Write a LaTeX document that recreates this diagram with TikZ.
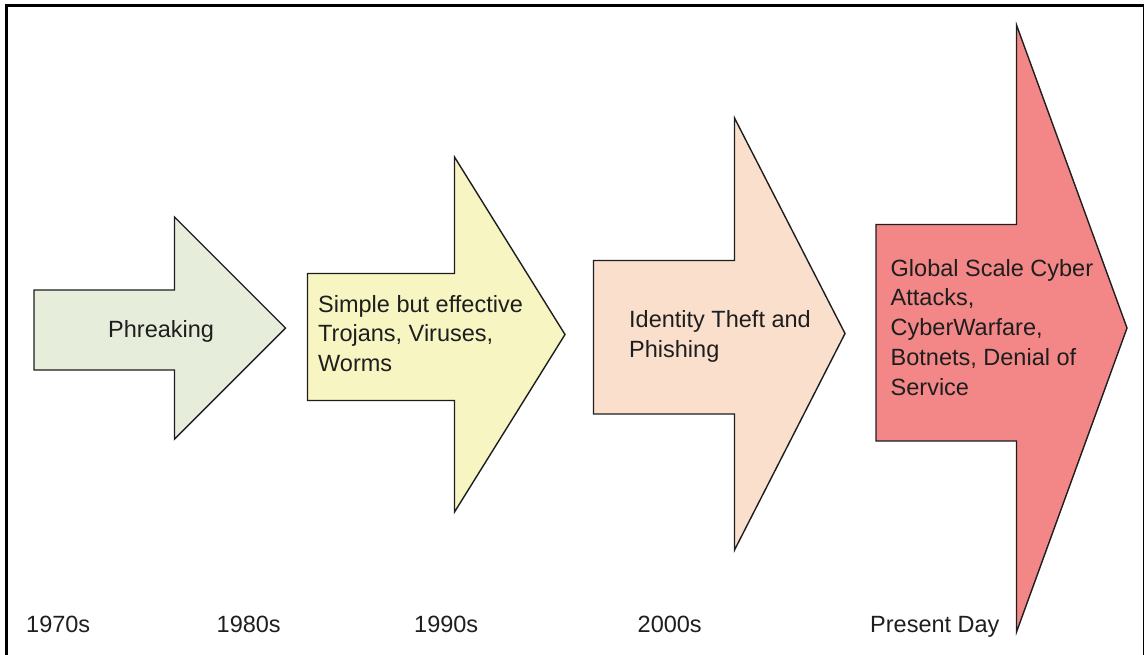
\documentclass[tikz,border=0pt]{standalone}
\usepackage{fontspec}
\setmainfont{Liberation Sans}
\definecolor{phreak}{HTML}{E6EDDB}
\definecolor{trojan}{HTML}{F7F5C2}
\definecolor{ident}{HTML}{FADFCC}
\definecolor{global}{HTML}{F38787}
\definecolor{ink}{HTML}{1E1E1E}
\begin{document}
\begin{tikzpicture}[x=1pt,y=-1pt,
  bigarrow/.style={draw=ink,line width=1.4pt,line join=miter},
  % multi-line labels are anchored at the baseline of their last line
  label/.style={anchor=base west,inner sep=0pt,align=left,text=ink,
    font=\fontsize{23.5}{29.7}\selectfont},
  era/.style={anchor=base west,inner sep=0pt,text=ink,
    font=\fontsize{23.5}{28}\selectfont}]
\useasboundingbox (0,0) rectangle (1145,654);
% outer frame, open at the bottom
\draw[black,line width=3pt] (6,660) -- (6,5.5) -- (1143.5,5.5);
\draw[black,line width=1.5pt] (1143.5,5.5) -- (1143.5,660);

% block arrows: body rectangle followed by a triangular head
\draw[bigarrow,fill=phreak] (34,290) -- (174.5,290) -- (174.5,217) -- (285.5,328) -- (174.5,439) -- (174.5,370) -- (34,370) -- cycle;

\draw[bigarrow,fill=trojan] (307.5,273.5) -- (454.5,273.5) -- (454.5,157) -- (565,334.5) -- (454.5,512) -- (454.5,400.5) -- (307.5,400.5) -- cycle;

\draw[bigarrow,fill=ident] (593.5,260.5) -- (734.5,260.5) -- (734.5,118) -- (845,333.5) -- (734.5,550) -- (734.5,414) -- (593.5,414) -- cycle;

\draw[bigarrow,fill=global] (876,224.5) -- (1016.5,224.5) -- (1016.5,25) -- (1127,328) -- (1016.5,632) -- (1016.5,441) -- (876,441) -- cycle;

% texts inside the arrows
\node[label] (t1) at (108,337) {Phreaking};
\node[label] (t2) at (318,371.5) {Simple but effective\\Trojans, Viruses,\\Worms};
\node[label] (t3) at (629,357) {Identity Theft and\\Phishing};
\node[label] (t4) at (890.5,395) {Global Scale Cyber\\Attacks,\\CyberWarfare,\\Botnets, Denial of\\Service};

% decades along the bottom
\node[era] (d1) at (26,632.5) {1970s};
\node[era] (d2) at (216.5,632.5) {1980s};
\node[era] (d3) at (414,632.5) {1990s};
\node[era] (d4) at (637.5,632.5) {2000s};
\node[era] (d5) at (870,632.5) {Present Day};
\end{tikzpicture}
\end{document}
